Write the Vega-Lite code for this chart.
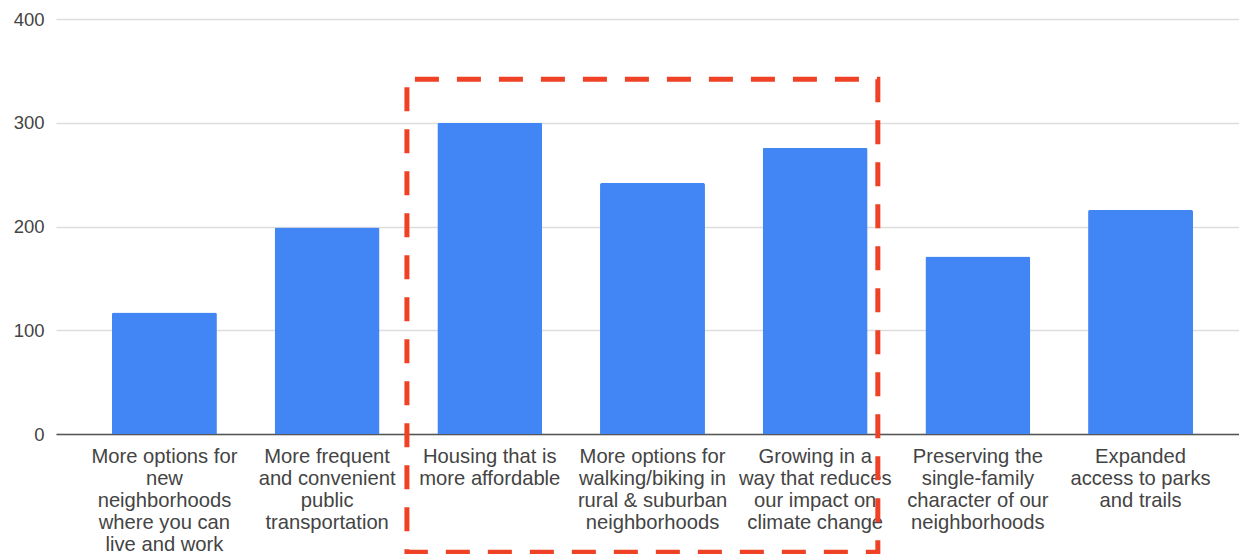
{
  "$schema": "https://vega.github.io/schema/vega-lite/v6.json",
  "width": 1193,
  "height": 415,
  "autosize": "none",
  "padding": {"left": 56, "top": 19, "right": 0, "bottom": 120},
  "background": "white",
  "config": {"view": {"stroke": null}, "font": "Liberation Sans"},
  "datasets": {
    "bars": [
      {"option": "More options for|new|neighborhoods|where you can|live and work", "count": 117},
      {"option": "More frequent|and convenient|public|transportation", "count": 199},
      {"option": "Housing that is|more affordable", "count": 300},
      {"option": "More options for|walking/biking in|rural & suburban|neighborhoods", "count": 242},
      {"option": "Growing in a|way that reduces|our impact on|climate change", "count": 276},
      {"option": "Preserving the|single-family|character of our|neighborhoods", "count": 171},
      {"option": "Expanded|access to parks|and trails", "count": 216}
    ],
    "box": [
      {"from": "Housing that is|more affordable", "to": "Growing in a|way that reduces|our impact on|climate change", "top": 342, "bottom": -114}
    ]
  },
  "layer": [
    {
      "data": {"name": "bars"},
      "mark": {"type": "bar", "color": "#4285F4", "cornerRadiusTopLeft": 2, "cornerRadiusTopRight": 2},
      "encoding": {
        "x": {
          "field": "option", "type": "nominal", "sort": null,
          "scale": {"paddingInner": 0.355, "paddingOuter": 0.344},
          "axis": {
            "title": null, "labelAngle": 0, "labelAlign": "center", "labelBaseline": "top",
            "labelExpr": "split(datum.label, '|')", "labelFontSize": 20.2, "labelLineHeight": 22,
            "labelColor": "#444444", "labelLimit": 0, "labelPadding": 12, "ticks": false,
            "domainColor": "#555555", "domainWidth": 1.6, "labelOverlap": false
          }
        },
        "y": {
          "field": "count", "type": "quantitative",
          "scale": {"domain": [0, 400], "nice": false},
          "axis": {
            "title": null, "values": [0, 100, 200, 300, 400], "labelFontSize": 18.5,
            "labelColor": "#444444", "labelPadding": 12, "ticks": false, "domain": false,
            "gridColor": "#dddddd", "gridWidth": 1.5
          }
        }
      }
    },
    {
      "data": {"name": "box"},
      "mark": {"type": "rect", "fill": null, "stroke": "#EE4125", "strokeWidth": 5, "strokeDash": [24, 18], "strokeDashOffset": -8},
      "encoding": {
        "x": {"field": "from", "type": "nominal", "sort": null, "bandPosition": -0.29},
        "x2": {"field": "to", "bandPosition": 1.097},
        "y": {"field": "top", "type": "quantitative"},
        "y2": {"field": "bottom"}
      }
    }
  ]
}
